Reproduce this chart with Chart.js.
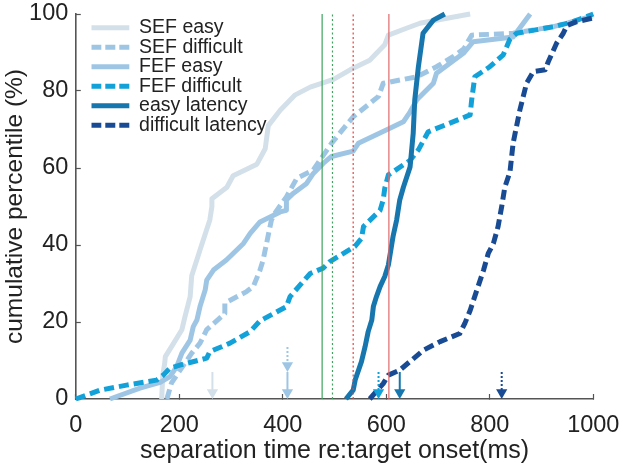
<!DOCTYPE html>
<html><head><meta charset="utf-8">
<script src="https://cdn.jsdelivr.net/npm/chart.js@4.4.1/dist/chart.umd.min.js"></script>
<style>html,body{margin:0;padding:0;background:#fff;}#wrap{width:628px;height:469px;}</style>
</head><body><div id="wrap"><canvas id="c" width="628" height="469"></canvas></div>
<script>
// ---- data ----
const seriesLabels = ['SEF easy','SEF difficult','FEF easy','FEF difficult','easy latency','difficult latency'];

const sefEasyX = [166,168,172,173,185,205,211,221,224,240,259,263,263,292,304,350,366,372,395,424,453,498,530,568,597,604,639,665,762];
const sefEasyY = [0,6,9.5,11,13.6,18,21.4,26.6,32,38.7,46.5,50,52,55,58,61,65,71,75,79,81,83,85.5,88,92,94.5,96.3,97.6,100];

const sefDiffX = [176,185,224,240,253,288,288,330,343,356,362,378,385,407,427,459,494,536,585,594,659,697,729,750,765,845,923,1000];
const sefDiffY = [0,4.2,11.9,14.5,18,22.2,24.9,27.9,29.2,33.5,36.1,46.5,48.3,52.5,57.3,59.5,66.4,73.3,78.6,82,83.7,86.3,88.9,91,94.5,95,96.7,99.5];

const fefEasyX = [66,124,163,182,195,205,221,227,234,240,250,253,266,291,324,337,356,395,407,407,420,446,459,478,494,536,546,607,633,646,659,691,697,749,768,845,878];
const fefEasyY = [0,2.8,4.3,5.8,8.4,11.9,15.3,18.8,20.5,24,28.3,30.9,33.5,36.1,40.4,43,46,48.6,49,51.7,53.4,56,58.6,61.2,63,64.4,66.4,70.3,72,74.6,77.7,82,84.6,89.8,92.8,94,100];

const fefDiffX = [0,47,98,156,169,182,201,253,259,298,337,356,407,414,453,478,491,539,552,556,588,594,597,604,646,662,681,762,765,771,800,826,839,852,923,961,1000];
const fefDiffY = [0,2.3,3.6,4.9,6.2,8,8.8,10.6,12.3,14.5,17.5,20.3,24,26.6,32.6,34,35.7,39.6,41.7,44.8,49,51.7,54.7,58.2,62,64.7,69.4,73.8,77.7,83.7,86.3,89.4,93.5,95,96.7,98,100];

const easyLatX = [522,536,540,552,559,565,572,575,581,588,597,604,613,620,626,633,646,652,655,662,671,691,713];
const easyLatY = [0,2.3,5,9.7,13.6,17.5,20.5,24,26.6,29.2,31.8,34.8,42.2,46.5,51.7,55,60.3,69,77.7,86.3,95,98.4,100];

const diffLatX = [568,594,604,626,672,704,742,752,762,775,788,797,807,816,823,829,839,845,858,871,884,907,913,929,942,949,968,1000];
const diffLatY = [0,4,6.2,7.5,12.7,14.9,17,19.7,23,28.3,33.5,37.8,40.4,44.8,50,55,59,66.4,75,82,85,85.5,87.6,92.4,95,97,98,99];

const markerX = [476, 496, 536, 605];          // vertical reference lines (ms)
const arrowX = [264, 409, 409, 585, 626, 823]; // median markers (ms)
const arrowTop = [7, 13.5, 7, 7, 7, 7];        // percent
const arrowTip = [0, 7, 0, 0, 0, 0];           // percent

const xTicks = [0, 200, 400, 600, 800, 1000];
const yTicks = [0, 20, 40, 60, 80, 100];

// ---- styles ----
const seriesColors = ['#d3e0ea','#9ec6e4','#9ec6e4','#12a1d9','#1676ad','#184b93'];
const seriesDashed = [false, true, false, true, false, true];
const markerColors = ['#3da35d','#3da35d','#e8413c','#e06a6a'];
const markerDotted = [false, true, true, false];
const arrowColors = ['#d3e0ea','#9ec6e4','#9ec6e4','#12a1d9','#1676ad','#184b93'];
const arrowDotted = [false, true, false, true, false, true];

const FONT = "'Liberation Sans', Arial, Helvetica, sans-serif";
const xsArr = [sefEasyX, sefDiffX, fefEasyX, fefDiffX, easyLatX, diffLatX];
const ysArr = [sefEasyY, sefDiffY, fefEasyY, fefDiffY, easyLatY, diffLatY];

const datasets = [];
seriesLabels.forEach((lab, i) => {
  datasets.push({
    label: lab,
    data: xsArr[i].map((x, k) => ({x, y: ysArr[i][k]})),
    borderColor: seriesColors[i],
    backgroundColor: seriesColors[i],
    borderWidth: 5,
    borderDash: seriesDashed[i] ? [10, 5] : [],
    borderJoinStyle: 'round',
    pointRadius: 0, tension: 0, clip: false,
    order: 20 - i
  });
});
markerX.forEach((x, i) => {
  datasets.push({
    label: '', data: [{x, y: 0}, {x, y: 100}],
    borderColor: markerColors[i], borderWidth: 1.2,
    borderDash: markerDotted[i] ? [2, 2.5] : [],
    pointRadius: 0, order: 5
  });
});
const headOffset = 1.7;
arrowX.forEach((x, i) => {
  datasets.push({
    label: '', data: [{x, y: arrowTop[i]}, {x, y: arrowTip[i] + headOffset}],
    borderColor: arrowColors[i], backgroundColor: arrowColors[i], borderWidth: 2,
    borderDash: arrowDotted[i] ? [2, 2] : [],
    pointRadius: [0, 6.5], pointStyle: 'triangle', pointRotation: 180,
    pointBackgroundColor: arrowColors[i], pointBorderWidth: 0,
    clip: false, order: 1
  });
});

const legendShift = {
  id: 'legendShift',
  afterLayout(chart) {
    const lg = chart.legend, ca = chart.chartArea;
    if (lg) { lg.left = ca.left + 15.5; lg.top = ca.top + 4; lg.right = ca.right; lg.bottom = ca.bottom; }
  }
};
const noPad = s => { s.paddingTop = 0; s.paddingBottom = 0; s.paddingLeft = 0; s.paddingRight = 0; };

new Chart(document.getElementById('c'), {
  type: 'line',
  data: { datasets },
  plugins: [legendShift],
  options: {
    responsive: false, animation: false, devicePixelRatio: 1,
    layout: { padding: { left: 0, right: 34.7, top: 14, bottom: 0 } },
    plugins: {
      tooltip: { enabled: false },
      legend: {
        position: 'chartArea', align: 'start',
        labels: {
          usePointStyle: true, pointStyle: 'line', pointStyleWidth: 38, padding: 0,
          font: { family: FONT, size: 19.5 }, color: '#222',
          generateLabels: () => seriesLabels.map((t, i) => ({
            text: t, strokeStyle: seriesColors[i], fillStyle: seriesColors[i],
            lineWidth: 5, lineDash: seriesDashed[i] ? [10, 4] : [], lineCap: 'butt',
            pointStyle: 'line', hidden: false, datasetIndex: i, fontColor: '#222'
          }))
        }
      }
    },
    scales: {
      x: {
        type: 'linear', min: 0, max: 1000,
        afterBuildTicks: s => { s.ticks = xTicks.map(v => ({value: v})); },
        afterFit: s => { s.height = 70; noPad(s); },
        grid: { display: true, drawOnChartArea: false, drawTicks: true, tickLength: -5, color: '#555', tickWidth: 1.2 },
        border: { display: true, color: '#555', width: 1.6 },
        ticks: { font: { family: FONT, size: 23.5 }, color: '#222', padding: 17, maxRotation: 0, callback: v => String(v) },
        title: { display: true, text: 'separation time re:target onset(ms)', font: { family: FONT, size: 25 }, color: '#222', padding: { top: 0, bottom: 3 } }
      },
      y: {
        type: 'linear', min: 0, max: 100,
        afterBuildTicks: s => { s.ticks = yTicks.map(v => ({value: v})); },
        afterFit: s => { s.width = 75.8; noPad(s); },
        grid: { display: true, drawOnChartArea: false, drawTicks: true, tickLength: -5, color: '#555', tickWidth: 1.2 },
        border: { display: true, color: '#555', width: 1.6 },
        ticks: { font: { family: FONT, size: 23.5 }, color: '#222', padding: 12.5, callback: v => String(v) },
        title: { display: true, text: 'cumulative percentile (%)', font: { family: FONT, size: 24.5 }, color: '#222', padding: { top: 1, bottom: 0 } }
      }
    }
  }
});
</script></body></html>
